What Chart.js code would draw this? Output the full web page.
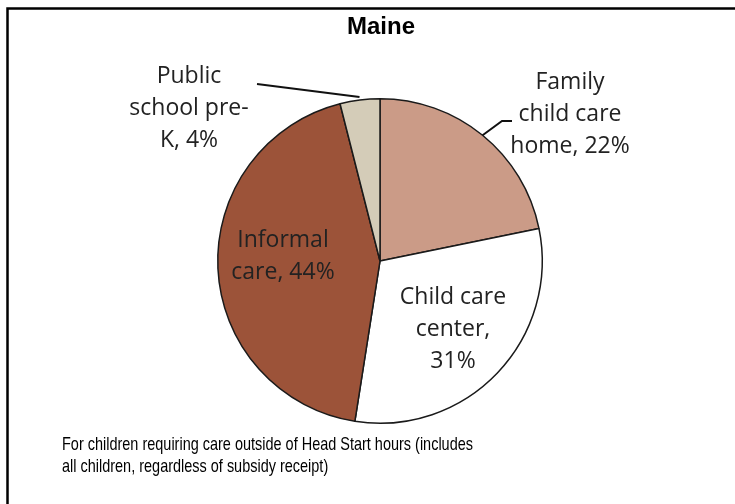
<!DOCTYPE html>
<html lang="en">
<head>
    <meta charset="UTF-8">
    <title>Maine</title>
    <script src="https://cdn.jsdelivr.net/npm/chart.js"></script>
    <style>
        body {
            margin: 0;
            padding: 0;
            background-color: #ffffff;
        }
        #wrap {
            width: 735px;
            height: 504px;
            position: relative;
        }
    </style>
</head>
<body>
    <div id="wrap"><canvas id="chartMaine"></canvas></div>

    <script>
        // data (clockwise from 12 o'clock)
        const categories = ["Family child care home", "Child care center", "Informal care", "Public school pre-K"];
        const shares = [22, 31, 44, 4];
        const sliceColors = ["#cb9b87", "#ffffff", "#9c5339", "#d4ccb8"];

        // how each label is broken into lines, and where it sits
        const labelLines = [
            ["Family", "child care", "home, 22%"],
            ["Child care", "center,", "31%"],
            ["Informal", "care, 44%"],
            ["Public", "school pre-", "K, 4%"]
        ];
        const labelSpots = [[570, 82], [453, 297], [283, 240], [189, 76]];

        const titleText = "Maine";
        const noteLines = [
            "For children requiring care outside of Head Start hours (includes",
            "all children, regardless of subsidy receipt)"
        ];

        const decorations = {
            id: 'decorations',
            afterDraw(chart) {
                const ctx = chart.ctx;
                const arcs = chart.getDatasetMeta(0).data;
                ctx.save();

                // frame: top and left edges only
                ctx.strokeStyle = '#000';
                ctx.lineWidth = 2.5;
                ctx.beginPath();
                ctx.moveTo(7.5, 504);
                ctx.lineTo(7.5, 8.5);
                ctx.lineTo(735, 8.5);
                ctx.stroke();

                // title
                ctx.fillStyle = '#000';
                ctx.font = 'bold 24px "Liberation Sans", Arial, sans-serif';
                ctx.textAlign = 'center';
                ctx.textBaseline = 'middle';
                ctx.fillText(titleText, 381, 27);

                // slice labels
                ctx.font = '23px "Open Sans", sans-serif';
                ctx.fillStyle = '#222';
                labelLines.forEach((lines, i) => {
                    const [x, y] = labelSpots[i];
                    lines.forEach((t, k) => ctx.fillText(t, x, y + k * 32));
                });

                // leader lines, anchored on the arcs
                const edge = (arc, extra) => {
                    const mid = (arc.startAngle + arc.endAngle) / 2;
                    const r = arc.outerRadius + extra;
                    return [arc.x + r * Math.cos(mid), arc.y + r * Math.sin(mid)];
                };
                ctx.strokeStyle = '#111';
                ctx.lineWidth = 2;
                const fam = edge(arcs[0], 0);
                ctx.beginPath();
                ctx.moveTo(fam[0], fam[1]);
                ctx.lineTo(502, 121);
                ctx.lineTo(512, 121);
                ctx.stroke();
                const pub = edge(arcs[3], 3);
                ctx.beginPath();
                ctx.moveTo(pub[0], pub[1]);
                ctx.lineTo(257, 84);
                ctx.stroke();

                // footnote, squeezed like the original
                ctx.fillStyle = '#000';
                ctx.font = '19px "Liberation Sans", Arial, sans-serif';
                ctx.textAlign = 'left';
                const sx = 411 / ctx.measureText(noteLines[0]).width;
                ctx.translate(62, 0);
                ctx.scale(sx, 1);
                noteLines.forEach((t, k) => ctx.fillText(t, 0, 445 + k * 22));

                ctx.restore();
            }
        };

        new Chart(document.getElementById('chartMaine'), {
            type: 'pie',
            data: {
                labels: categories,
                datasets: [{
                    data: shares,
                    backgroundColor: sliceColors,
                    borderColor: '#1a1a1a',
                    borderWidth: 1.5
                }]
            },
            options: {
                responsive: true,
                maintainAspectRatio: false,
                animation: false,
                layout: { padding: { top: 98, bottom: 80, left: 217, right: 192 } },
                plugins: {
                    legend: { display: false },
                    tooltip: { enabled: false }
                }
            },
            plugins: [decorations]
        });
    </script>
</body>
</html>
